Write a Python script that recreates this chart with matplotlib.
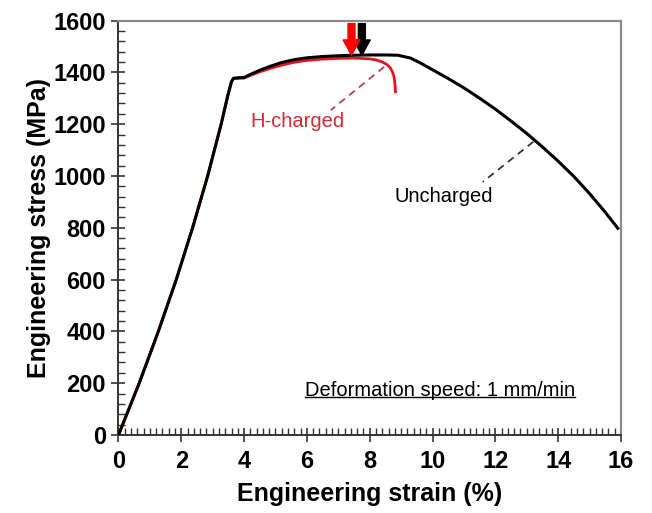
import matplotlib
matplotlib.use("Agg")
import matplotlib.pyplot as plt
from matplotlib.ticker import MultipleLocator
from matplotlib.lines import Line2D

plt.rcParams['font.family'] = ['Liberation Sans', 'DejaVu Sans']

# Uncharged curve
strain_unch = [0, 0.66, 1.27, 1.84, 2.36, 2.84, 3.27, 3.48, 3.6, 3.66, 3.8, 4.0, 4.2, 4.5,
               4.8, 5.2, 5.6, 6.0, 6.5, 7.0, 7.5, 8.0, 8.5, 8.9, 9.3, 9.6, 10.0, 10.5,
               11.0, 11.5, 12.0, 12.5, 13.0, 13.5, 14.0, 14.5, 15.0, 15.5, 15.9]
stress_unch = [0, 200, 400, 600, 800, 1000, 1200, 1310, 1365, 1377, 1379, 1380, 1392, 1408,
               1422, 1438, 1449, 1456, 1461, 1464, 1466, 1467, 1467, 1466, 1455, 1437, 1410, 1376,
               1340, 1300, 1258, 1212, 1164, 1112, 1057, 998, 932, 860, 798]

# H-charged curve
strain_h = [0, 0.66, 1.27, 1.84, 2.36, 2.84, 3.27, 3.48, 3.6, 3.66, 3.8, 4.0, 4.2, 4.5,
            4.8, 5.2, 5.6, 6.0, 6.5, 7.0, 7.5, 8.0, 8.2, 8.4, 8.55, 8.65, 8.72, 8.77,
            8.8, 8.82]
stress_h = [0, 200, 400, 600, 800, 1000, 1200, 1310, 1363, 1375, 1377, 1378, 1388, 1402,
            1414, 1428, 1439, 1446, 1451, 1454, 1455, 1452, 1448, 1440, 1430, 1418, 1403, 1385,
            1360, 1325]

# UTS arrows (strain, tail stress, tip stress)
arrow_h = (7.42, 1588, 1466)
arrow_unch = (7.75, 1588, 1466)

x_ticks = [0, 2, 4, 6, 8, 10, 12, 14, 16]
y_ticks = [0, 200, 400, 600, 800, 1000, 1200, 1400, 1600]

fig = plt.figure(figsize=(6.52, 5.13), dpi=100)
ax = fig.add_axes([0.1817, 0.152, 0.7707, 0.808])

ax.plot(strain_h, stress_h, color='#e8141c', lw=2.0, zorder=3, solid_joinstyle='round')
ax.plot(strain_unch, stress_unch, color='black', lw=2.2, zorder=4, solid_joinstyle='round')

# arrows
ax.annotate('', xy=(arrow_unch[0], arrow_unch[2]), xytext=(arrow_unch[0], arrow_unch[1]),
            arrowprops=dict(arrowstyle='simple,head_length=0.55,head_width=0.6,tail_width=0.25',
                            mutation_scale=20, color='black', shrinkA=0, shrinkB=0), zorder=5)
ax.annotate('', xy=(arrow_h[0], arrow_h[2]), xytext=(arrow_h[0], arrow_h[1]),
            arrowprops=dict(arrowstyle='simple,head_length=0.55,head_width=0.6,tail_width=0.25',
                            mutation_scale=20, color='#ff0000', shrinkA=0, shrinkB=0), zorder=6)

# leader lines
ax.plot([8.46, 6.76], [1421, 1254], ls=(0, (4, 3)), color='#b5404a', lw=1.3, zorder=2)
ax.plot([13.21, 11.6], [1132, 977], ls=(0, (4, 3)), color='#333333', lw=1.3, zorder=2)

ax.text(4.21, 1209, 'H-charged', color='#d42a34', fontsize=14.5, ha='left', va='center')
ax.text(8.8, 920, 'Uncharged', color='black', fontsize=14.5, ha='left', va='center')

t = ax.text(5.94, 172, 'Deformation speed: 1 mm/min', color='black', fontsize=14.5,
            ha='left', va='center')

ax.set_xlim(0, 16)
ax.set_ylim(0, 1600)
ax.set_xticks(x_ticks)
ax.set_yticks(y_ticks)
ax.set_xticklabels([str(v) for v in x_ticks])
ax.set_yticklabels([str(v) for v in y_ticks])
ax.xaxis.set_minor_locator(MultipleLocator(0.2))
ax.yaxis.set_minor_locator(MultipleLocator(40))
ax.tick_params(axis='both', which='major', direction='inout', length=10, width=1.2,
               color='#333333', labelsize=17, pad=4)
ax.tick_params(axis='x', which='major', pad=6)
ax.tick_params(axis='both', which='minor', direction='in', length=5, width=1.0, color='#333333')
ax.tick_params(top=False, right=False, which='both')
for lab in ax.get_xticklabels() + ax.get_yticklabels():
    lab.set_fontweight('bold')

for s in ['left', 'bottom']:
    ax.spines[s].set_color('#333333')
    ax.spines[s].set_linewidth(1.4)
for s in ['top', 'right']:
    ax.spines[s].set_color('#8a8a8a')
    ax.spines[s].set_linewidth(1.6)

ax.set_xlabel('Engineering strain (%)', fontsize=18, fontweight='bold', labelpad=6)
ax.set_ylabel('Engineering stress (MPa)', fontsize=18, fontweight='bold', labelpad=2)

# underline the deformation speed note
fig.canvas.draw()
bb = t.get_window_extent(renderer=fig.canvas.get_renderer())
inv = ax.transData.inverted()
(x0, y0), (x1, y1) = inv.transform([(bb.x0, bb.y0), (bb.x1, bb.y0)])
ax.add_line(Line2D([x0, x1], [y0 + 10, y0 + 10], color='black', lw=1.0))

fig.savefig('out.png', dpi=100)
